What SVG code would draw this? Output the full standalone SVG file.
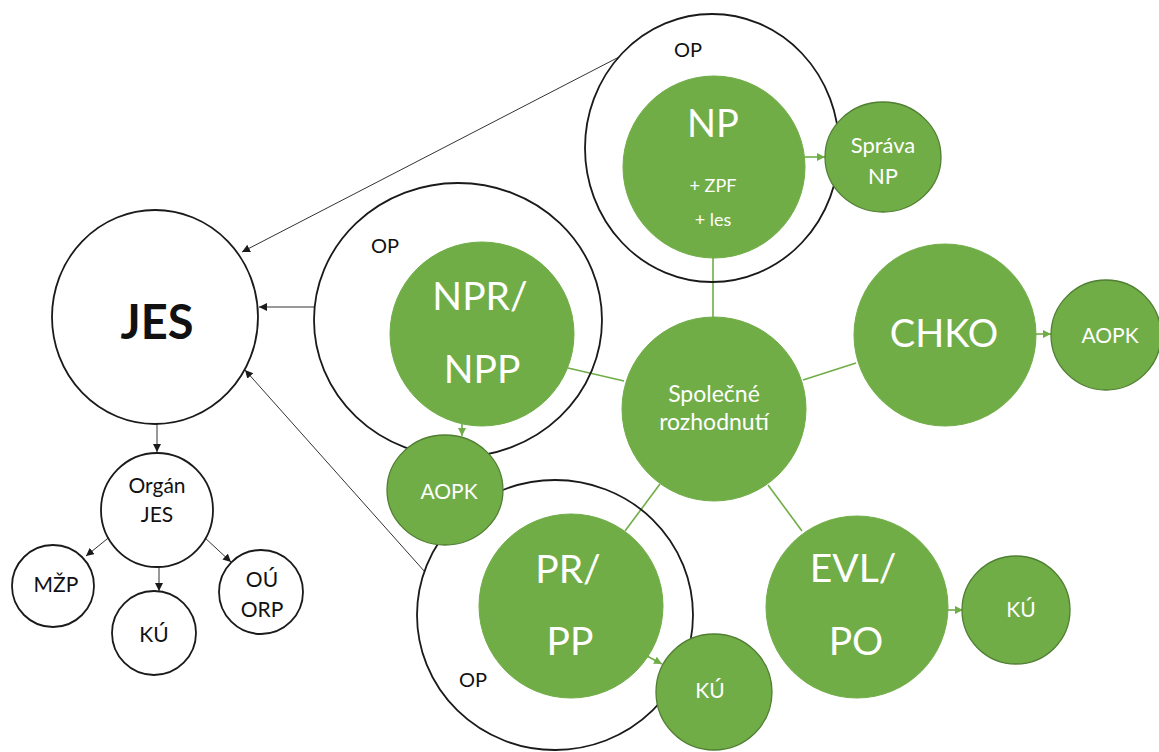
<svg xmlns="http://www.w3.org/2000/svg" width="1159" height="752" viewBox="0 0 1159 752">
<defs>
<marker id="ab" markerUnits="userSpaceOnUse" markerWidth="9" markerHeight="9" refX="8" refY="4" orient="auto"><path d="M0,0 L8,4 L0,8 z" fill="#1a1a1a"/></marker>
<marker id="ag" markerUnits="userSpaceOnUse" markerWidth="9" markerHeight="9" refX="8" refY="4" orient="auto"><path d="M0,0 L8,4 L0,8 z" fill="#70AD47"/></marker>
<style>
.wc{fill:#fff;stroke:#1a1a1a;stroke-width:1.8}
.op{fill:none;stroke:#1a1a1a;stroke-width:1.8}
.g{fill:#70AD47;stroke:#70AD47;stroke-width:1}
.gs{fill:#70AD47;stroke:#507E32;stroke-width:1.3}
.bl{stroke:#333;stroke-width:1;fill:none}
.gl{stroke:#70AD47;stroke-width:1.6;fill:none}
text{font-family:Lato,"Open Sans",sans-serif;text-anchor:middle}
.w{fill:#fff}
.k{fill:#111}
</style>
</defs>
<rect width="1159" height="752" fill="#fff"/>
<g id="connectors">
<line class="bl" x1="157" y1="424" x2="157" y2="452" marker-end="url(#ab)"/>
<line class="bl" x1="112" y1="535" x2="86" y2="556" marker-end="url(#ab)"/>
<line class="bl" x1="159" y1="567" x2="159" y2="591" marker-end="url(#ab)"/>
<line class="bl" x1="204" y1="537" x2="231" y2="562" marker-end="url(#ab)"/>
<line class="bl" x1="619" y1="57" x2="242" y2="252" marker-end="url(#ab)"/>
<line class="bl" x1="315" y1="307" x2="259" y2="307" marker-end="url(#ab)"/>
<line class="bl" x1="425" y1="572" x2="245" y2="370" marker-end="url(#ab)"/>
<line class="gl" x1="462" y1="424" x2="462" y2="436" marker-end="url(#ag)"/>
<line class="gl" x1="805" y1="157" x2="825" y2="157" marker-end="url(#ag)"/>
<line class="gl" x1="647" y1="656" x2="662" y2="664" marker-end="url(#ag)"/>
<line class="gl" x1="1035" y1="334" x2="1051" y2="334" marker-end="url(#ag)"/>
<line class="gl" x1="947" y1="610" x2="963" y2="610" marker-end="url(#ag)"/>
<line class="gl" x1="713" y1="256" x2="713" y2="318"/>
<line class="gl" x1="568" y1="368" x2="624" y2="381"/>
<line class="gl" x1="803" y1="380" x2="856" y2="363"/>
<line class="gl" x1="660" y1="484" x2="625" y2="531"/>
<line class="gl" x1="768" y1="485" x2="802" y2="531"/>
</g>
<g id="op-np"><ellipse class="op" cx="712" cy="148" rx="127" ry="134"/><text class="k" x="688" y="57" font-size="20">OP</text></g>
<g id="op-npr"><ellipse class="op" cx="458" cy="320" rx="144" ry="137"/><text class="k" x="385" y="253" font-size="20">OP</text></g>
<g id="op-pr"><ellipse class="op" cx="555" cy="615" rx="138" ry="135"/><text class="k" x="473" y="687" font-size="20">OP</text></g>
<g id="jes"><ellipse class="wc" cx="155" cy="317" rx="103" ry="107"/><text class="k" x="157" y="339" font-size="47" font-weight="bold">JES</text></g>
<g id="organ-jes"><ellipse class="wc" cx="157" cy="510" rx="56" ry="57"/><text class="k" x="157" y="493" font-size="21">Orgán</text><text class="k" x="157" y="522" font-size="21">JES</text></g>
<g id="mzp"><circle class="wc" cx="53" cy="586" r="41"/><text class="k" x="56" y="592" font-size="21">MŽP</text></g>
<g id="ku-left"><circle class="wc" cx="154" cy="633" r="42"/><text class="k" x="154" y="642" font-size="21">KÚ</text></g>
<g id="ou-orp"><circle class="wc" cx="261" cy="592" r="42"/><text class="k" x="262" y="587" font-size="21">OÚ</text><text class="k" x="262" y="617" font-size="21">ORP</text></g>
<g id="np"><circle class="g" cx="714" cy="167" r="91"/><text class="w" x="713" y="137" font-size="38">NP</text><text class="w" x="713" y="192" font-size="18">+ ZPF</text><text class="w" x="713" y="226" font-size="18">+ les</text></g>
<g id="sprava-np"><ellipse class="gs" cx="883" cy="157" rx="58" ry="55"/><text class="w" x="883" y="153" font-size="22">Správa</text><text class="w" x="883" y="184" font-size="22">NP</text></g>
<g id="npr-npp"><circle class="g" cx="482" cy="334" r="92"/><text class="w" x="480" y="310" font-size="39">NPR/</text><text class="w" x="482" y="383" font-size="39">NPP</text></g>
<g id="aopk-left"><ellipse class="gs" cx="445" cy="490" rx="58" ry="55"/><text class="w" x="449" y="499" font-size="21">AOPK</text></g>
<g id="spolecne"><circle class="g" cx="714" cy="409" r="92"/><text class="w" x="714" y="402" font-size="23">Společné</text><text class="w" x="714" y="430" font-size="23">rozhodnutí</text></g>
<g id="chko"><circle class="g" cx="945" cy="335" r="91"/><text class="w" x="944" y="347" font-size="38">CHKO</text></g>
<g id="aopk-right"><circle class="gs" cx="1106" cy="335" r="55"/><text class="w" x="1110" y="343" font-size="21">AOPK</text></g>
<g id="pr-pp"><circle class="g" cx="571" cy="606" r="92"/><text class="w" x="568" y="583" font-size="39">PR/</text><text class="w" x="570" y="655" font-size="39">PP</text></g>
<g id="ku-pr"><circle class="gs" cx="714" cy="692" r="58"/><text class="w" x="710" y="698" font-size="21">KÚ</text></g>
<g id="evl-po"><circle class="g" cx="857" cy="607" r="91"/><text class="w" x="853" y="582" font-size="39">EVL/</text><text class="w" x="856" y="655" font-size="39">PO</text></g>
<g id="ku-evl"><circle class="gs" cx="1016" cy="610" r="54"/><text class="w" x="1021" y="617" font-size="21">KÚ</text></g>
</svg>
